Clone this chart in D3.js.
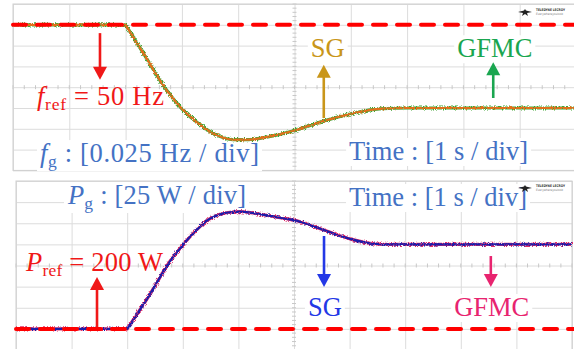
<!DOCTYPE html>
<html>
<head>
<meta charset="utf-8">
<script src="https://cdn.jsdelivr.net/npm/d3@7"></script>
<style>
  body { margin: 0; background: #fff; }
  svg { display: block; }
</style>
</head>
<body>
<svg id="chart" width="574" height="349"></svg>
<script>
// time base: 1 s / div, 10 divisions
const timeTicks = [0, 1, 2, 3, 4, 5, 6, 7, 8, 9, 10];
// frequency grid: 0.025 Hz / div
const freqTicks = [49.825, 49.85, 49.875, 49.9, 49.925, 49.95, 49.975, 50.0, 50.025];
// power grid: 25 W / div
const powerTicks = [175, 200, 225, 250, 275, 300, 325, 350, 375];

const fRef = 50;     // Hz
const pRef = 200;    // W

// grid frequency after the step (SG and GFMC traces lie on top of each other)
const freqTime = [0, 1, 2.0, 2.35, 2.7, 3.0, 3.3, 3.6, 3.9, 4.2, 4.5, 5.0, 5.5, 6.0, 6.5, 7.0, 8, 9, 10];
const freqSG   = [50, 50, 50, 49.962, 49.924, 49.899, 49.881, 49.868, 49.862, 49.862, 49.865, 49.873, 49.884, 49.893, 49.899, 49.900, 49.900, 49.900, 49.900];
const freqGFMC = [50, 50, 50, 49.962, 49.924, 49.899, 49.881, 49.868, 49.862, 49.862, 49.865, 49.873, 49.884, 49.893, 49.899, 49.900, 49.900, 49.900, 49.900];

// active power output
const powerTime = [0, 1, 2.0, 2.4, 2.77, 2.95, 3.13, 3.31, 3.49, 3.67, 3.85, 4.03, 4.4, 4.75, 5.1, 5.45, 6.0, 6.45, 6.8, 7.5, 8.5, 10];
const powerSG   = [200, 200, 200, 240, 280, 295, 309, 321, 330.5, 335.5, 338, 338.7, 335.5, 331.5, 327, 319, 306.6, 300.7, 300, 300, 300, 300];
const powerGFMC = [200, 200, 200, 240, 280, 295, 309, 321, 330.5, 335.5, 338, 338.7, 335.5, 331.5, 327, 319, 306.6, 300.7, 300, 300, 300, 300];

const svg = d3.select('#chart');
const FONT = '"Liberation Serif", "Times New Roman", serif';

// noise filters so the traces look like scope captures
const defs = svg.append('defs');
function noiseFilter(id, seed, scale) {
  const f = defs.append('filter').attr('id', id)
    .attr('filterUnits', 'userSpaceOnUse')
    .attr('x', 0).attr('y', 0).attr('width', 574).attr('height', 349);
  f.append('feTurbulence').attr('type', 'fractalNoise')
    .attr('baseFrequency', 0.9).attr('numOctaves', 1).attr('seed', seed).attr('result', 'n');
  f.append('feDisplacementMap').attr('in', 'SourceGraphic').attr('in2', 'n')
    .attr('scale', scale).attr('xChannelSelector', 'R').attr('yChannelSelector', 'G');
}
noiseFilter('noiseA', 3, 5);
noiseFilter('noiseB', 11, 3.5);

function panel(opts) {
  const x = d3.scaleLinear().domain([0, 10]).range([opts.x0, opts.x1]);
  const y = d3.scaleLinear().domain(opts.domain).range([opts.y1, opts.y0]);
  const g = svg.append('g');

  // grid via axes
  g.append('g')
    .attr('transform', `translate(0,${opts.y1})`)
    .call(d3.axisTop(x).tickValues(timeTicks).tickSize(opts.y1 - opts.y0).tickFormat(''))
    .call(a => a.select('.domain').remove())
    .call(a => a.selectAll('line').attr('stroke', '#dcdcdc'));
  g.append('g')
    .attr('transform', `translate(${opts.x0},0)`)
    .call(d3.axisRight(y).tickValues(opts.ticks).tickSize(opts.x1 - opts.x0).tickFormat(''))
    .call(a => a.select('.domain').remove())
    .call(a => a.selectAll('line').attr('stroke', '#dcdcdc'));

  // minor ticks on centre axes
  const cy = y(opts.ticks[4]), cx = x(5);
  const minorT = d3.range(0, 10.001, 0.2);
  g.selectAll('.mt').data(minorT).enter().append('line')
    .attr('x1', d => x(d)).attr('x2', d => x(d))
    .attr('y1', cy - 2).attr('y2', cy + 2)
    .attr('stroke', '#c8c8c8');
  const step = (opts.domain[1] - opts.domain[0]) / 40;
  const minorV = d3.range(0, 41).map(i => opts.domain[0] + i * step);
  g.selectAll('.mv').data(minorV).enter().append('line')
    .attr('x1', cx - 2).attr('x2', cx + 2)
    .attr('y1', d => y(d)).attr('y2', d => y(d))
    .attr('stroke', '#c8c8c8');

  g.append('rect')
    .attr('x', opts.x0).attr('y', opts.y0)
    .attr('width', opts.x1 - opts.x0).attr('height', opts.y1 - opts.y0)
    .attr('fill', 'none').attr('stroke', '#cfcfcf');

  return { x, y, g };
}

function tracePath(x, y, ts, vs) {
  const pts = ts.map((t, i) => [t, vs[i]]);
  const k = ts.indexOf(2.0);
  const lin = d3.line().x(d => x(d[0])).y(d => y(d[1]));
  const mono = d3.line().x(d => x(d[0])).y(d => y(d[1])).curve(d3.curveMonotoneX);
  return lin(pts.slice(0, k + 1)) + mono(pts.slice(k)).replace(/^M/, 'L');
}

function label(g, x, y, parts, color, bg, width) {
  const t = g.append('text')
    .attr('x', x).attr('y', y)
    .attr('font-family', FONT).attr('font-size', 26.5).attr('fill', color);
  parts.forEach(p => {
    const s = t.append('tspan').text(p.text);
    if (p.italic) s.attr('font-style', 'italic');
    if (p.sub) s.attr('font-size', 17.5).attr('dy', 5);
    if (p.after) s.attr('dy', -5);
  });
  if (width) t.attr('textLength', width).attr('lengthAdjust', 'spacing');
  if (bg) {
    const b = t.node().getBBox();
    g.insert('rect', () => t.node())
      .attr('x', b.x - 3).attr('y', b.y + 2)
      .attr('width', b.width + 6).attr('height', b.height - 2)
      .attr('fill', '#fff');
  }
  return t;
}

function arrow(g, x, y1, y2, color) {
  const dir = y2 > y1 ? 1 : -1;
  const hl = 13, hw = 7;
  g.append('line')
    .attr('x1', x).attr('x2', x)
    .attr('y1', y1).attr('y2', y2 - dir * hl + dir)
    .attr('stroke', color).attr('stroke-width', 2.6);
  g.append('path')
    .attr('d', `M${x},${y2} L${x - hw},${y2 - dir * hl} L${x + hw},${y2 - dir * hl} Z`)
    .attr('fill', color);
}

function logo(g, x, y) {
  g.append('path')
    .attr('d', `M${x},${y} l6,-1.5 l1,-1.5 l1,1.5 l6,1.5 l-5,1 l1,3 l-3,-2 l-3,2 l1,-3 Z`)
    .attr('fill', '#222');
  g.append('text').attr('x', x + 18).attr('y', y - 1)
    .attr('font-family', 'DejaVu Sans').attr('font-size', 3.6).attr('font-weight', 'bold')
    .attr('textLength', 29).attr('lengthAdjust', 'spacingAndGlyphs')
    .attr('fill', '#333').text('TELEDYNE LECROY');
  g.append('text').attr('x', x + 18).attr('y', y + 3)
    .attr('font-family', 'DejaVu Sans').attr('font-size', 3)
    .attr('textLength', 27).attr('lengthAdjust', 'spacingAndGlyphs')
    .attr('fill', '#777').text('Everywhereyoulook');
}

// ---------- top panel: frequency ----------
const freqPanel = panel({ x0: 13, x1: 576, y0: 4, y1: 170.4, domain: [49.825, 50.025], ticks: freqTicks });
{
  const { x, y, g } = freqPanel;
  label(g, x(0.48), y(49.835), [
    { text: 'f', italic: true }, { text: 'g', sub: true }, { text: ' : [0.025 Hz / div]', after: true }
  ], '#4472c4', true, 219);
  label(g, x(5.97), y(49.8375), [{ text: 'Time : [1 s / div]' }], '#4472c4', true, 179);
  label(g, x(5.29), y(49.961), [{ text: 'SG' }], '#c9961a', true);
  label(g, x(7.89), y(49.961), [{ text: 'GFMC' }], '#1aa650', true);
  label(g, x(0.426), y(49.904), [
    { text: 'f', italic: true }, { text: 'ref', sub: true }, { text: ' = 50 Hz', after: true }
  ], '#f01818', false, 127);

  g.append('path').attr('d', tracePath(x, y, freqTime, freqGFMC))
    .attr('fill', 'none').attr('stroke', '#3fa535').attr('stroke-width', 3.2)
    .attr('filter', 'url(#noiseA)');
  g.append('path').attr('d', tracePath(x, y, freqTime, freqSG))
    .attr('fill', 'none').attr('stroke', '#e0701e').attr('stroke-width', 2.2)
    .attr('filter', 'url(#noiseB)');

  g.append('line')
    .attr('x1', x(0)).attr('x2', 574).attr('y1', y(fRef)).attr('y2', y(fRef))
    .attr('stroke', '#ff0000').attr('stroke-width', 4)
    .attr('stroke-dasharray', '13 11').attr('stroke-linecap', 'round');

  arrow(g, x(1.545), y(49.990), y(49.934), '#f01818');
  arrow(g, x(5.52), y(49.888), y(49.952), '#c9961a');
  arrow(g, x(8.53), y(49.912), y(49.955), '#1aa650');
  logo(g, 518, 12);
}

// ---------- bottom panel: power ----------
const powerPanel = panel({ x0: 16, x1: 572, y0: 181, y1: 350, domain: [175, 375], ticks: powerTicks });
{
  const { x, y, g } = powerPanel;
  label(g, x(0.935), y(347.8), [
    { text: 'P', italic: true }, { text: 'g', sub: true }, { text: ' : [25 W / div]', after: true }
  ], '#4472c4', true, 178);
  label(g, x(5.99), y(345.4), [{ text: 'Time : [1 s / div]' }], '#4472c4', true, 178);
  label(g, x(5.25), y(215.2), [{ text: 'SG' }], '#2338e6', true);
  label(g, x(7.88), y(215.2), [{ text: 'GFMC' }], '#e8246f', true);
  label(g, x(0.18), y(268.5), [
    { text: 'P', italic: true }, { text: 'ref', sub: true }, { text: ' = 200 W', after: true }
  ], '#f01818', false, 137);

  g.append('path').attr('d', tracePath(x, y, powerTime, powerGFMC))
    .attr('fill', 'none').attr('stroke', '#e0306a').attr('stroke-width', 3.2)
    .attr('filter', 'url(#noiseA)');
  g.append('path').attr('d', tracePath(x, y, powerTime, powerSG))
    .attr('fill', 'none').attr('stroke', '#1c1caa').attr('stroke-width', 2.2)
    .attr('filter', 'url(#noiseB)');

  g.append('line')
    .attr('x1', x(0)).attr('x2', 574).attr('y1', y(pRef)).attr('y2', y(pRef))
    .attr('stroke', '#ff0000').attr('stroke-width', 4)
    .attr('stroke-dasharray', '13 11').attr('stroke-linecap', 'round');

  arrow(g, x(1.457), y(202.1), y(261.4), '#f01818');
  arrow(g, x(5.54), y(309.9), y(249.6), '#2338e6');
  arrow(g, x(8.54), y(286.2), y(249.6), '#e8246f');
  logo(g, 518, 188);
}
</script>
</body>
</html>
